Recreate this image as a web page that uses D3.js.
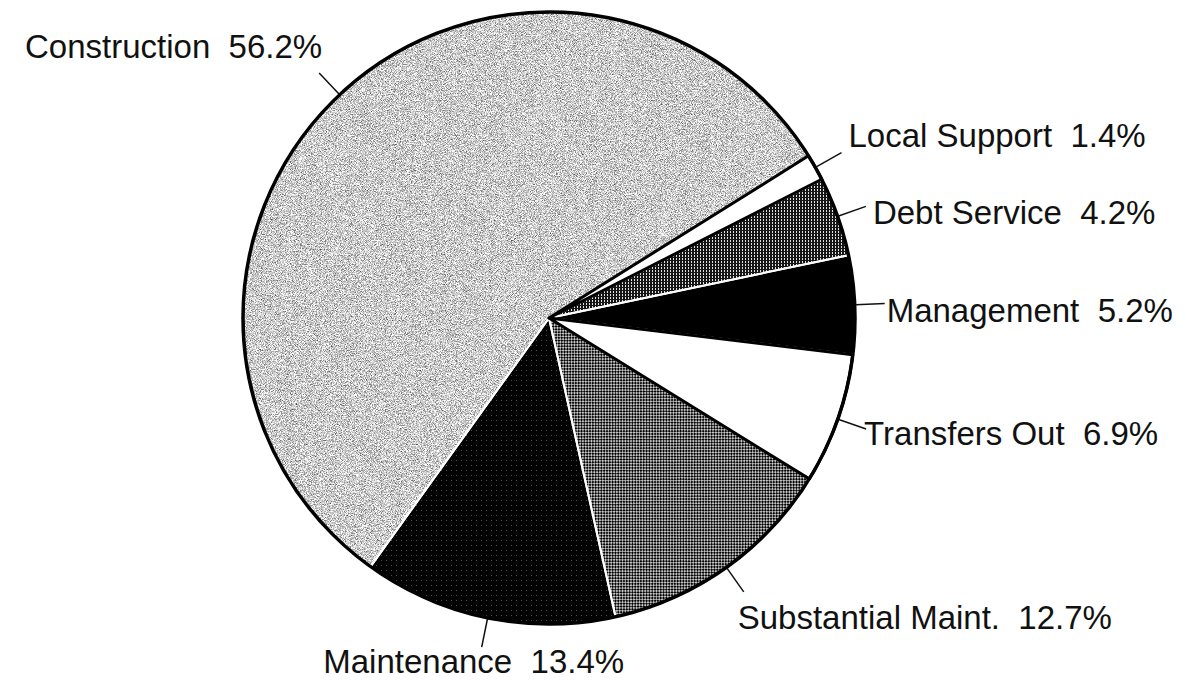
<!DOCTYPE html>
<html>
<head>
<meta charset="utf-8">
<script src="https://cdn.jsdelivr.net/npm/d3@7"></script>
<style>
  body { margin: 0; background: #fff; }
  .label { font-family: "Liberation Sans", Arial, Helvetica, sans-serif; font-size: 33px; fill: #111; }
</style>
</head>
<body>
<div class="canvas"></div>
<script>
// slices in clockwise order, starting at the Local Support slice
var categories = ["Local Support", "Debt Service", "Management", "Transfers Out", "Substantial Maint.", "Maintenance", "Construction"];
var shares = [1.4, 4.2, 5.2, 6.9, 12.7, 13.4, 56.2];

var width = 1186;
var height = 681;
var cx = 549;
var cy = 318;
var radius = 306;
var leader = 30;
var startDeg = 58;

// fill per slice (same order as categories)
var fills = ["#fff", "url(#pDebt)", "#000", "#fff", "url(#pSub)", "url(#pMaint)", "#c8c8c8"];
var whiteSlices = ["Local Support", "Transfers Out"];
// label offset from the leader end: [dx, dy, anchor]
var labelPlace = [
  [7, -6, "start"],
  [7, 18, "start"],
  [2, 19, "start"],
  [-2, 16, "start"],
  [-6, 37, "start"],
  [-8, 26, "middle"],
  [3, -15, "end"]
];

var data = categories.map((c, i) => ({ name: c, value: shares[i] }));

var svg = d3
  .select(".canvas")
  .append("svg")
  .attr("width", width)
  .attr("height", height);

var defs = svg.append("defs");

/* speckled light gray for Construction */
var f = defs
  .append("filter")
  .attr("id", "speckle")
  .attr("x", 0)
  .attr("y", 0)
  .attr("width", 1)
  .attr("height", 1)
  .attr("color-interpolation-filters", "sRGB");
f.append("feTurbulence")
  .attr("type", "fractalNoise")
  .attr("baseFrequency", 1.2)
  .attr("numOctaves", 2)
  .attr("seed", 7)
  .attr("result", "n");
f.append("feColorMatrix")
  .attr("in", "n")
  .attr("type", "matrix")
  .attr("values", "1.4 0 0 0 0.1  1.4 0 0 0 0.1  1.4 0 0 0 0.1  0 0 0 0 1")
  .attr("result", "g");
f.append("feComposite")
  .attr("in", "g")
  .attr("in2", "SourceGraphic")
  .attr("operator", "in");

var pDebt = defs
  .append("pattern")
  .attr("id", "pDebt")
  .attr("patternUnits", "userSpaceOnUse")
  .attr("width", 3)
  .attr("height", 3);
pDebt.append("rect").attr("width", 3).attr("height", 3).attr("fill", "#151515");
pDebt.append("rect").attr("x", 1).attr("width", 1).attr("height", 2).attr("fill", "#e0e0e0");

var pSub = defs
  .append("pattern")
  .attr("id", "pSub")
  .attr("patternUnits", "userSpaceOnUse")
  .attr("width", 4)
  .attr("height", 4)
  .attr("patternTransform", "rotate(45)");
pSub.append("rect").attr("width", 4).attr("height", 4).attr("fill", "#000");
pSub.append("rect").attr("x", 0.1).attr("y", 0.1).attr("width", 1.8).attr("height", 1.8).attr("fill", "#f4f4f4");
pSub.append("rect").attr("x", 2.1).attr("y", 2.1).attr("width", 1.8).attr("height", 1.8).attr("fill", "#f4f4f4");

var pMaint = defs
  .append("pattern")
  .attr("id", "pMaint")
  .attr("patternUnits", "userSpaceOnUse")
  .attr("width", 5)
  .attr("height", 5);
pMaint.append("rect").attr("width", 5).attr("height", 5).attr("fill", "#030303");
pMaint.append("rect").attr("x", 2).attr("y", 2).attr("width", 1).attr("height", 1).attr("fill", "#fff").attr("opacity", 0.3);

/* Pie */
var pie = d3
  .pie()
  .sort(null)
  .value((d) => d.value)
  .startAngle((startDeg * Math.PI) / 180)
  .endAngle((startDeg * Math.PI) / 180 + 2 * Math.PI);
var arcs = pie(data);
var arc = d3.arc().innerRadius(0).outerRadius(radius);

var g = svg.append("g").attr("transform", `translate(${cx}, ${cy})`);

g.selectAll(".slice")
  .data(arcs)
  .enter()
  .append("path")
  .attr("class", "slice")
  .attr("d", arc)
  .attr("fill", (d, i) => fills[i])
  .attr("filter", (d) => (d.data.name === "Construction" ? "url(#speckle)" : null));

// thin white separators
g.selectAll(".edge")
  .data(arcs)
  .enter()
  .append("path")
  .attr("class", "edge")
  .attr("d", arc)
  .attr("fill", "none")
  .attr("stroke", "#fff")
  .attr("stroke-width", 2)
  .attr("stroke-linejoin", "round");

// white slices get a black border
g.selectAll(".wedge")
  .data(arcs.filter((d) => whiteSlices.includes(d.data.name)))
  .enter()
  .append("path")
  .attr("class", "wedge")
  .attr("d", arc)
  .attr("fill", "none")
  .attr("stroke", "#000")
  .attr("stroke-width", 3)
  .attr("stroke-linejoin", "round");

g.append("circle")
  .attr("r", radius)
  .attr("fill", "none")
  .attr("stroke", "#000")
  .attr("stroke-width", 3.5);

/* Labels with leader lines */
var inner = d3.arc().innerRadius(radius + 1).outerRadius(radius + 1);
var outer = d3.arc().innerRadius(radius + leader).outerRadius(radius + leader);
var mid = (d) => ({ startAngle: (d.startAngle + d.endAngle) / 2, endAngle: (d.startAngle + d.endAngle) / 2 });

var labels = g.selectAll(".lab").data(arcs).enter().append("g").attr("class", "lab");

labels
  .append("line")
  .attr("x1", (d) => inner.centroid(mid(d))[0])
  .attr("y1", (d) => inner.centroid(mid(d))[1])
  .attr("x2", (d) => outer.centroid(mid(d))[0])
  .attr("y2", (d) => outer.centroid(mid(d))[1])
  .attr("stroke", "#111")
  .attr("stroke-width", 1.5);

labels
  .append("text")
  .attr("class", "label")
  .attr("x", (d, i) => outer.centroid(mid(d))[0] + labelPlace[i][0])
  .attr("y", (d, i) => outer.centroid(mid(d))[1] + labelPlace[i][1])
  .attr("text-anchor", (d, i) => labelPlace[i][2])
  .text((d) => d.data.name + "\u00A0\u00A0" + d3.format(".1f")(d.data.value) + "%");
</script>
</body>
</html>
